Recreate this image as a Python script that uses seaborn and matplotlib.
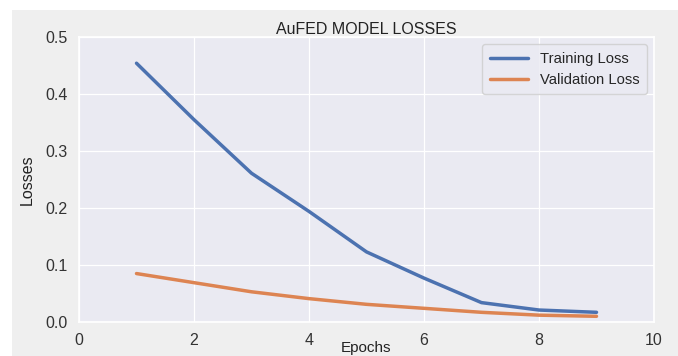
import matplotlib
matplotlib.use("Agg")
import matplotlib.pyplot as plt
import seaborn as sns
import pandas as pd
from matplotlib.patches import Rectangle

epochs = [1, 2, 3, 4, 5, 6, 7, 8, 9]
training_loss = [0.454, 0.355, 0.261, 0.194, 0.123, 0.077, 0.034, 0.021, 0.017]
validation_loss = [0.085, 0.069, 0.053, 0.041, 0.031, 0.024, 0.017, 0.012, 0.010]
series_names = ["Training Loss", "Validation Loss"]

sns.set_theme(style="darkgrid", palette="deep")
plt.rcParams["font.family"] = ["Liberation Sans", "DejaVu Sans"]

df = pd.DataFrame({
    "Epochs": epochs * 2,
    "Losses": training_loss + validation_loss,
    "series": [series_names[0]] * len(epochs) + [series_names[1]] * len(epochs),
})

fig = plt.figure(figsize=(6.78, 3.56), dpi=100, facecolor="white")
fig.patches.append(Rectangle((12 / 678, 0), 1, 1 - 10 / 356, transform=fig.transFigure,
                             facecolor="#efefef", edgecolor="none", zorder=-10))
ax = fig.add_axes([79 / 678, 1 - 322 / 356, (654 - 79) / 678, (322 - 37) / 356])

sns.lineplot(data=df, x="Epochs", y="Losses", hue="series", ax=ax, linewidth=2.5,
             palette=["#4c72b0", "#dd8452"])

ax.set_xlim(0, 10)
ax.set_ylim(0, 0.5)
ax.set_xticks([0, 2, 4, 6, 8, 10])
ax.set_yticks([0.0, 0.1, 0.2, 0.3, 0.4, 0.5])
ax.grid(True, color="white", linewidth=0.9)
ax.tick_params(labelsize=11.5, colors="#333333", pad=2)
ax.set_title("AuFED MODEL LOSSES", fontsize=11.5, color="#222222", pad=2)
ax.set_xlabel("Epochs", fontsize=11, color="#222222")
ax.xaxis.set_label_coords(0.5, -0.068)
ax.set_ylabel("Losses", fontsize=11.5, color="#222222", labelpad=8)
leg = ax.legend(loc="upper right", fontsize=10.6, title=None, frameon=True,
                handlelength=2.6, borderpad=0.5)
for line in leg.get_lines():
    line.set_linewidth(2.5)

fig.savefig("out.png", dpi=100, facecolor=fig.get_facecolor())
